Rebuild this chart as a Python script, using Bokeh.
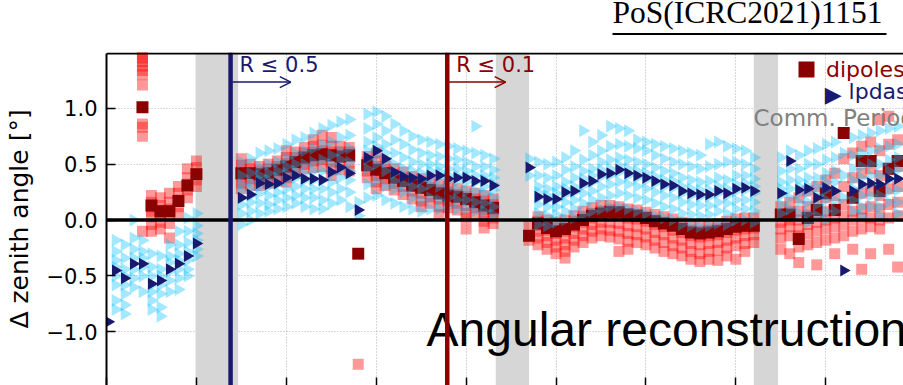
import numpy as np
from bokeh.plotting import figure
from bokeh.layouts import column
from bokeh.models import (Range1d, FixedTicker, BoxAnnotation, Span,
                          Label, Arrow, OpenHead, Legend, LegendItem)
from bokeh.embed import file_html
from bokeh.resources import INLINE

# ---------------- data ----------------
# weekly means, dipoles
dip_x = [4, 5, 6, 7, 8, 9, 10] + list(range(15, 44)) + list(range(47, 73)) + list(range(75, 89))
dip_y = [1.01, .13, .08, .08, .17, .31, .41,
         .42, .42, .41, .42, .45, .48, .52, .56, .58, .59, .58, .57, .58, -.30, .49, .45, .42,
         .38, .35, .31, .29, .27, .24, .22, .21, .19, .16, .13, .11,
         -.14, -.03, -.07, -.10, -.08, -.04, .00, .04, .06, .07, .07, .05, .04, .02, -.01,
         -.03, -.05, -.08, -.11, -.12, -.11, -.10, -.08, -.06, -.05, -.05,
         .05, .05, -.17, .02, .09, .24, .09, .78, .20, .53, .53, .26, .46, .53]
# weekly means, lpdas
lpda_x = [0.2, 1, 2, 3, 4, 5, 6, 7, 8, 9, 10] + list(range(15, 44)) + list(range(47, 73)) + list(range(75, 89))
lpda_y = [-.91, -.45, -.52, -.39, -.39, -.57, -.54, -.44, -.39, -.32, -.21,
          .20, .23, .33, .32, .33, .38, .40, .37, .37, .36, .43, .47, .42, .09, .56, .62, .55,
          .43, .39, .38, .37, .40, .40, .37, .38, .38, .35, .35, .31,
          .47, .21, .19, .19, .25, .26, .33, .35, .41, .42, .45, .42, .40, .38, .35, .32, .31,
          .26, .24, .23, .23, .26, .24, .28, .29, .26,
          .24, .53, .27, .28, .20, .29, .26, -.45, .26, .32, .33, .32, .37, .37]

# individual antennas, dipoles (per week)
dip_ind_weeks = [4, 5, 6, 7, 8, 9, 10] + list(range(15, 44)) + list(range(47, 73)) + list(range(75, 89))
dip_ind_vals = [
    [1.52, 1.48, 1.45, 1.42, 1.38, 1.34, 1.30, 1.21, .86, .83, .75, -.10],
    [.22, .16, .12, .08, .03, -.04, -.10], [.20, .13, .09, .05, -.02, -.08],
    [.24, .16, .10, .05, -.03, -.16], [.30, .24, .18, .12, .06],
    [.46, .38, .32, .27, .20], [.53, .47, .42, .36, .30],
    [.55, .49, .45, .41, .38, .33, .28], [.50, .46, .42, .37, .31], [.48, .44, .40, .36, .31],
    [.50, .46, .42, .38, .33], [.53, .48, .44, .40, .35], [.62, .56, .51, .47, .43, .38, .34],
    [.61, .56, .52, .47, .42], [.65, .60, .55, .50, .46], [.72, .66, .61, .57, .53, .47],
    [.76, .67, .62, .58, .54, .48], [.74, .66, .61, .57, .52, .46, .40], [.66, .61, .56, .52, .45],
    [.65, .61, .57, .51, .44], [-1.29], [.57, .52, .48, .44, .38], [.60, .53, .48, .44, .40, .34, .28],
    [.50, .45, .41, .37, .31], [.46, .41, .37, .33, .27], [.43, .38, .34, .30, .23],
    [.39, .34, .30, .26, .19], [.37, .32, .28, .24, .17, .12], [.34, .29, .26, .21, .15],
    [.32, .27, .23, .19, .12, .05], [.30, .25, .21, .17, .11], [.28, .23, .20, .15, .09],
    [.26, .21, .18, .13, .06, .02, -.08], [.24, .19, .15, .11, .05],
    [.22, .17, .12, .09, .03, -.01, -.07], [.19, .14, .10, .07, .02, -.03],
    [-.05, -.18], [.03, -.01, -.05, -.10, -.16, -.22], [.00, -.04, -.09, -.14, -.20, -.26],
    [-.02, -.07, -.12, -.18, -.24, -.30], [.00, -.05, -.10, -.16, -.22, -.28, -.34],
    [.04, -.01, -.06, -.12, -.18, -.24], [.08, .03, -.02, -.08, -.14, -.20],
    [.11, .06, .02, -.04, -.10, -.16], [.13, .08, .04, -.02, -.08, -.14],
    [.13, .09, .05, -.02, -.09, -.15], [.12, .08, .04, -.03, -.10, -.17, -.28],
    [.10, .06, .02, -.05, -.12, -.19, -.26], [.09, .05, .01, -.06, -.13, -.20],
    [.07, .03, -.01, -.08, -.15, -.22], [.05, .00, -.04, -.11, -.18, -.25],
    [.03, -.02, -.06, -.13, -.20, -.28], [.01, -.04, -.09, -.16, -.23, -.30],
    [-.02, -.06, -.11, -.18, -.25, -.32], [-.04, -.09, -.14, -.21, -.28, -.35],
    [-.05, -.10, -.15, -.22, -.30, -.37], [-.04, -.09, -.14, -.21, -.28, -.35],
    [-.03, -.08, -.13, -.20, -.27, -.36], [-.01, -.06, -.11, -.18, -.25, -.32],
    [.01, -.04, -.09, -.16, -.23, -.35], [.02, -.03, -.08, -.14, -.21, -.28],
    [.02, -.03, -.07, -.13, -.20],
    [.12, .04, -.02, -.08, -.16, -.26], [.16, .07, .00, -.06, -.14, -.30],
    [.20, .08, .00, -.08, -.14, -.24, -.38], [.26, .12, .04, -.04, -.12, -.22],
    [.30, .16, .06, -.02, -.10, -.20, -.40], [.36, .20, .08, .00, -.08, -.18],
    [.42, .22, .10, .02, -.06, -.16, -.30], [.55, .30, .14, .04, -.04, -.14],
    [.60, .38, .20, .08, .00, -.10, -.26], [.66, .42, .24, .10, .02, -.08, -.44],
    [.70, .46, .26, .12, .02, -.06, -.30], [.90, .62, .40, .22, .10, .00, -.08],
    [.93, .68, .45, .28, .14, .02, -.26], [.72, .48, .30, .16, .04, -.42],
]
# individual antennas, lpdas (per week)
lpda_ind_weeks = list(range(1, 11)) + list(range(15, 44)) + list(range(47, 73)) + list(range(75, 89))
lpda_ind_vals = [
    [-.18, -.28, -.36, -.42, -.50, -.58, -.72, -.80], [-.22, -.34, -.44, -.50, -.58, -.66, -.76, -.84],
    [.00, -.16, -.26, -.34, -.44, -.52, -.60], [-.18, -.28, -.34, -.42, -.50, -.64],
    [-.30, -.42, -.50, -.58, -.64, -.72, -.80], [-.32, -.44, -.50, -.58, -.66, -.78, -.86],
    [-.22, -.32, -.38, -.46, -.54, -.64], [-.10, -.22, -.30, -.36, -.44, -.52, -.62],
    [.02, -.10, -.20, -.28, -.36, -.44, -.50], [.06, -.05, -.12, -.18, -.26, -.32],
    [.52, .40, .32, .26, .20, .14, .06, -.04], [.55, .42, .34, .28, .22, .16, .08, .00],
    [.60, .48, .40, .36, .30, .24, .15, .06], [.62, .50, .42, .36, .30, .22, .14, .08],
    [.64, .52, .44, .38, .32, .25, .18, .10], [.68, .56, .48, .42, .36, .28, .20, .12],
    [.72, .60, .50, .44, .38, .30, .22, .15], [.74, .62, .50, .42, .36, .28, .20, .12],
    [.78, .64, .52, .44, .36, .28, .20, .10], [.82, .68, .54, .44, .36, .28, .18, .10],
    [.85, .70, .58, .50, .42, .34, .25, .15], [.88, .74, .62, .54, .46, .38, .28, .18],
    [.90, .76, .64, .52, .44, .36, .25, .12], [.16, .04],
    [.95, .82, .70, .62, .55, .46, .32, .20], [.97, .86, .74, .66, .58, .50, .35, .22],
    [.93, .80, .68, .60, .52, .44, .30, .18], [.86, .72, .60, .50, .42, .35, .28, .15],
    [.80, .68, .56, .46, .40, .32, .25, .12], [.75, .63, .52, .44, .38, .30, .20, .10],
    [.72, .60, .50, .42, .36, .28, .18, .08], [.70, .58, .50, .44, .38, .32, .20, .10],
    [.68, .57, .48, .43, .38, .30, .18, .10], [.66, .55, .46, .40, .35, .28, .20, .12],
    [.64, .54, .46, .40, .35, .27, .18, .10], [.62, .52, .44, .39, .34, .26, .18, .10],
    [.84, .60, .48, .40, .34, .26, .16, .08], [.58, .48, .40, .36, .30, .24, .15, .08],
    [.55, .45, .38, .32, .27, .20, .12, .05],
    [.55, .40], [.52, .40, .30, .25, .20, .14, .06, -.04], [.50, .38, .28, .22, .18, .12, .04, -.05],
    [.52, .40, .30, .24, .18, .12, .05, -.02], [.56, .45, .34, .28, .23, .16, .08, .00],
    [.62, .48, .38, .30, .25, .18, .10, .02], [.80, .54, .44, .37, .31, .24, .15, .05],
    [.70, .58, .46, .40, .34, .26, .18, .08], [.76, .62, .52, .45, .39, .30, .20, .10],
    [.84, .66, .54, .46, .40, .32, .22, .12], [.82, .68, .56, .49, .43, .34, .24, .12],
    [.80, .66, .54, .46, .40, .32, .22, .10], [.72, .64, .52, .44, .38, .30, .20, .08],
    [.70, .62, .50, .42, .36, .28, .18, .06], [.68, .58, .47, .39, .33, .25, .15, .04],
    [.66, .55, .44, .36, .30, .22, .12, .02], [.64, .52, .42, .35, .29, .20, .10, .00],
    [.62, .50, .38, .30, .24, .16, .06, -.04], [.60, .48, .36, .28, .22, .14, .05, -.05],
    [.58, .46, .34, .27, .21, .13, .04, -.06], [.68, .48, .35, .27, .21, .13, .05, -.05],
    [.70, .50, .38, .30, .24, .16, .08, -.03], [.66, .52, .36, .28, .22, .15, .06, -.04],
    [.64, .52, .40, .32, .26, .18, .10, .00], [.62, .50, .40, .33, .27, .18, .10, .00],
    [.56, .46, .37, .30, .24, .16, .08, -.02],
    [.56, .44, .34, .28, .22, .14, .06], [.62, .46, .36, .28, .20, .10],
    [.58, .46, .36, .30, .24, .16, .06], [.62, .50, .38, .31, .25, .16, .06, -.02],
    [.64, .50, .38, .30, .22, .14, .04], [.68, .54, .42, .34, .27, .18, .08, .00],
    [.70, .56, .44, .34, .26, .18, .08], [.60, .40, .20],
    [.74, .58, .46, .36, .28, .18, .08], [.76, .60, .48, .38, .31, .22, .12, .04],
    [.78, .62, .50, .40, .32, .22, .12], [.80, .64, .50, .40, .32, .22, .12, .04],
    [.82, .66, .54, .44, .36, .26, .16], [.84, .68, .56, .45, .37, .27, .16, .06],
]

comm_start = [9.9, 43.3, 72.0]
comm_end = [14.65, 47.0, 74.7]
cut_pos = [13.8, 37.9]
cut_labels = ["R ≤ 0.5", "R ≤ 0.1"]
cut_colors = ["#191970", "#8b0000"]
x_ticks = [0, 10, 20, 30, 40, 50, 60, 70, 80]
y_ticks = [-1, -0.5, 0, 0.5, 1]
y_tick_labels = ["\u22121.0", "\u22120.5", "0.0", "0.5", "1.0"]
header_text = "PoS(ICRC2021)1151"

X_LO, X_HI = 0, 88.65
Y_LO, Y_HI = -1.48, 1.50
Y_SPINE = 1.49

dip_ind_x = [w for w, vals in zip(dip_ind_weeks, dip_ind_vals) for _ in vals]
dip_ind_y = [v for vals in dip_ind_vals for v in vals]
lpda_ind_x = [w for w, vals in zip(lpda_ind_weeks, lpda_ind_vals) for _ in vals]
lpda_ind_y = [v for vals in lpda_ind_vals for v in vals]

# ---------------- header strip (its frame is aligned with the main frame: page px 106..903) ----
head = figure(width=903, height=52, output_backend="svg", toolbar_location=None,
              x_range=Range1d(106, 903), y_range=Range1d(0, 52),
              x_axis_location=None, y_axis_location=None,
              min_border_left=0, min_border_right=0, min_border_top=0, min_border_bottom=0)
head.outline_line_color = None
head.grid.visible = False
head.background_fill_color = "white"
head.border_fill_color = "white"
head.add_layout(Label(x=612, y=23, text=header_text, text_font="Liberation Serif",
                      text_font_size="31.5px", text_color="black"))
head.add_layout(BoxAnnotation(left=612, right=886, bottom=17.6, top=19.4, fill_color="black",
                              fill_alpha=1.0, line_color=None))

# ---------------- main plot ----------------
p = figure(width=903, height=333, output_backend="svg", toolbar_location=None,
           x_range=Range1d(X_LO, X_HI), y_range=Range1d(Y_LO, Y_HI),
           min_border_left=106, min_border_right=0, min_border_top=0, min_border_bottom=0)
p.outline_line_color = None
p.background_fill_color = "white"
p.border_fill_color = "white"

xa = p.xaxis[0]
xa.ticker = FixedTicker(ticks=x_ticks)
xa.major_label_overrides = {t: "" for t in x_ticks}
xa.major_label_text_font_size = "1px"
xa.major_label_standoff = 0
xa.major_tick_in = 8
xa.major_tick_out = 0
xa.minor_tick_in = 0
xa.minor_tick_out = 0
xa.axis_line_color = None
xa.major_tick_line_width = 1.5

ya = p.yaxis[0]
ya.bounds = (Y_LO, Y_SPINE)
ya.ticker = FixedTicker(ticks=y_ticks)
ya.major_label_overrides = dict(zip(y_ticks, y_tick_labels))
ya.major_tick_in = 9
ya.major_tick_out = 0
ya.minor_tick_in = 0
ya.minor_tick_out = 0
ya.axis_line_width = 2
ya.major_tick_line_width = 1.5
ya.major_label_text_font = "DejaVu Sans"
ya.major_label_text_font_size = "21px"
ya.major_label_text_color = "black"
ya.major_label_standoff = 9
ya.axis_label = "Δ zenith angle [°]"
ya.axis_label_text_font = "DejaVu Sans"
ya.axis_label_text_font_size = "25px"
ya.axis_label_text_font_style = "normal"
ya.axis_label_text_color = "black"
ya.axis_label_standoff = 10

p.grid.grid_line_color = "#b0b0b0"
p.grid.grid_line_dash = "1 2"
p.grid.grid_line_width = 1

for s, e in zip(comm_start, comm_end):
    p.add_layout(BoxAnnotation(left=s, right=e, fill_color="#d6d6d6",
                               fill_alpha=1.0, line_color=None, level="underlay"))

# points
p.scatter(dip_ind_x, dip_ind_y, marker="square", size=11, fill_color="red",
          fill_alpha=0.4, line_color=None)
r_dip = p.scatter(dip_x, dip_y, marker="square", size=12, fill_color="#8b0000", line_color=None)
p.scatter(lpda_ind_x, lpda_ind_y, marker="triangle", angle=-np.pi / 2, size=13,
          fill_color="#00bfff", fill_alpha=0.36, line_color=None)
r_lpda = p.scatter(lpda_x, lpda_y, marker="triangle", angle=-np.pi / 2, size=12,
                   fill_color="#191970", line_color=None)

# big text
p.add_layout(Label(x=35.6, y=-1.212, text="Angular reconstruction", text_font="Liberation Sans",
                   text_font_size="48px", text_color="black"))

# lines and cut markers
p.add_layout(Span(location=0, dimension="width", line_color="black", line_width=3.5))
for xpos, col, lab, a0, a1 in zip(cut_pos, cut_colors, cut_labels, [14.0, 38.1], [20.5, 44.4]):
    p.add_layout(Span(location=xpos, dimension="height", line_color=col, line_width=4.5))
    p.add_layout(Arrow(end=OpenHead(size=11, line_color=col, line_width=1.5),
                       x_start=a0, y_start=1.235, x_end=a1, y_end=1.235,
                       line_color=col, line_width=1.5))
    p.add_layout(Label(x=xpos + 1.0, y=1.28, text=lab, text_font="DejaVu Sans",
                       text_font_size="21px", text_color=col))

# top spine
p.add_layout(Span(location=Y_SPINE, dimension="width", line_color="black", line_width=2))

# legend
lg = Legend(items=[LegendItem(label="dipoles", renderers=[r_dip])], location=(680, 296),
            padding=0, spacing=0, margin=0, glyph_width=40, glyph_height=40,
            label_standoff=0, label_text_font="DejaVu Sans", label_text_font_size="22px",
            label_text_color="#8b0000", background_fill_alpha=0, border_line_color=None)
p.add_layout(lg)
p.add_layout(Label(x=79.9, y=1.015, text="\u25B6", text_font="DejaVu Sans",
                   text_font_size="22px", text_color="#191970"))
p.add_layout(Label(x=82.54, y=1.038, text="lpdas", text_font="DejaVu Sans",
                   text_font_size="22px", text_color="#191970"))
p.add_layout(Label(x=71.97, y=0.797, text="Comm. Period", text_font="DejaVu Sans",
                   text_font_size="23px", text_color="#808080"))

layout = column(head, p, spacing=0)
open("out.html", "w").write(file_html(layout, INLINE))
